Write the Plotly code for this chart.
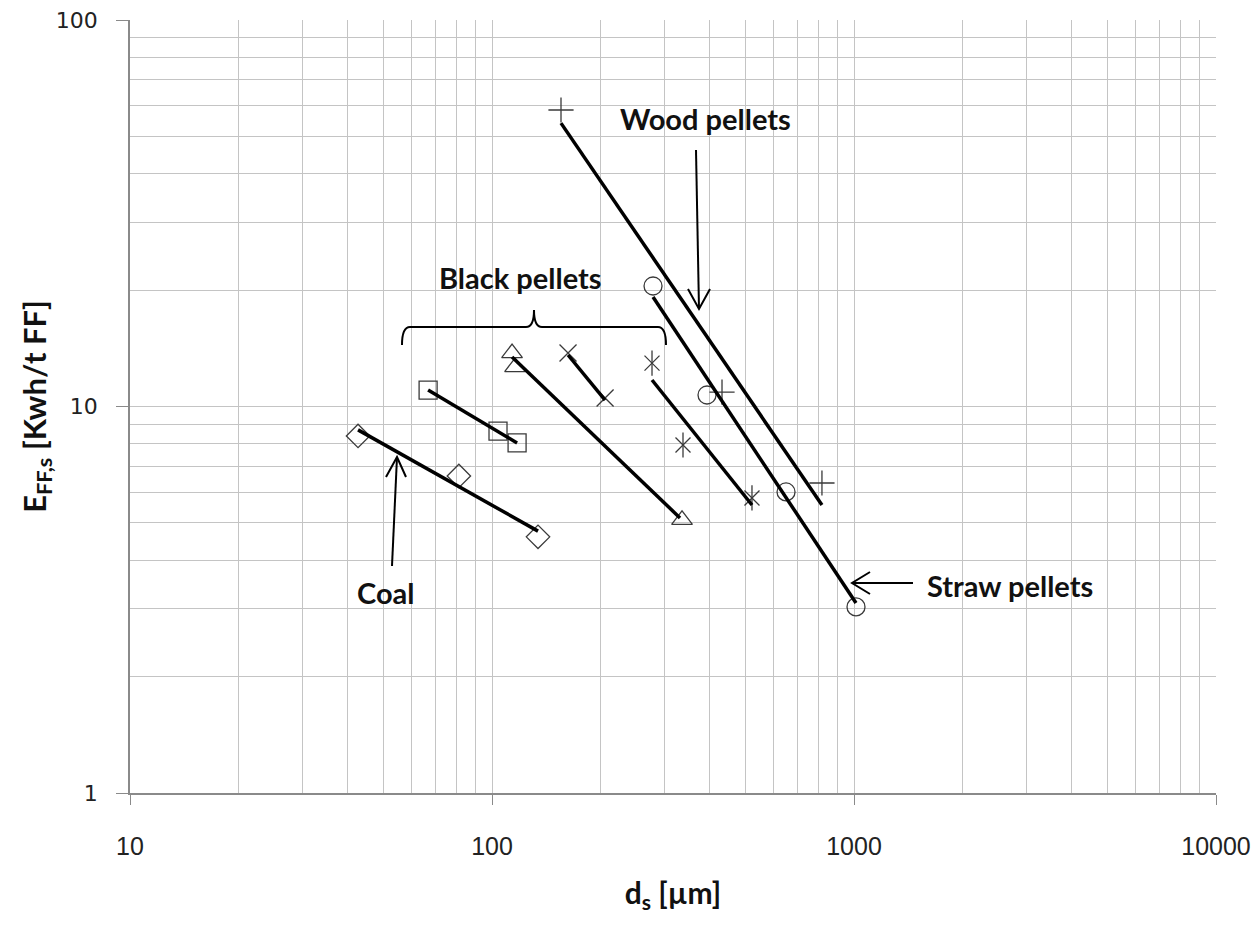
import plotly.graph_objects as go

# ---- data ----
coal_x = [42.65, 81.0, 134.0]
coal_y = [8.39, 6.61, 4.60]
coal_fit_x = [42.65, 134.0]
coal_fit_y = [8.70, 4.76]

square_x = [66.6, 103.9, 117.3]
square_y = [11.03, 8.64, 8.05]
square_fit_x = [66.6, 117.3]
square_fit_y = [11.03, 8.05]

tri_x = [113.6, 115.8, 334.9]
tri_y = [13.75, 12.65, 5.09]
tri_fit_x = [113.6, 330.6]
tri_fit_y = [13.43, 5.15]

xm_x = [162.2, 205.3]
xm_y = [13.75, 10.52]
xm_fit_x = [162.2, 205.3]
xm_fit_y = [13.59, 10.39]

star_x = [276.7, 337.0, 522.6]
star_y = [12.95, 7.95, 5.80]
star_fit_x = [276.7, 522.6]
star_fit_y = [11.71, 5.56]

straw_x = [278.5, 392.6, 649.0, 1012.8]
straw_y = [20.50, 10.71, 6.01, 3.03]
straw_fit_x = [278.5, 1012.8]
straw_fit_y = [19.20, 3.10]

wood_x = [155.1, 431.9, 815.6]
wood_y = [58.5, 10.90, 6.34]
wood_fit_x = [155.1, 815.6]
wood_fit_y = [54.1, 5.56]

x_tick_vals = [10, 100, 1000, 10000]
x_tick_text = ["10", "100", "1000", "10000"]
y_tick_vals = [1, 10, 100]
y_tick_text = ["1", "10", "100"]

# ---- layout geometry ----
W, H = 1258, 932
ML, MR, MT, MB = 130, 42, 20, 139
PW, PH = W - ML - MR, H - MT - MB


def px(x):
    return (x - ML) / PW


def py(y):
    return (H - MB - y) / PH


MC = "#3a3a3a"
fig = go.Figure()


def markers(x, y, symbol, size, width=1.3):
    fig.add_trace(go.Scatter(
        x=x, y=y, mode="markers", showlegend=False, hoverinfo="skip",
        marker=dict(symbol=symbol, size=size, color=MC,
                    line=dict(color=MC, width=width))))


def fitline(x, y):
    fig.add_trace(go.Scatter(
        x=x, y=y, mode="lines", showlegend=False, hoverinfo="skip",
        line=dict(color="black", width=3.5)))


markers(coal_x, coal_y, "diamond-open", 18)
markers(square_x, square_y, "square-open", 18)
markers(tri_x, tri_y, "triangle-up-open", 18)
markers(xm_x, xm_y, "x-thin-open", 17)
markers(star_x, star_y, "x-thin-open", 15)
markers(star_x, star_y, "line-ns-open", 18)
markers(straw_x, straw_y, "circle-open", 18)
markers(wood_x, wood_y, "cross-thin-open", 18)

for fx, fy in [(coal_fit_x, coal_fit_y), (square_fit_x, square_fit_y),
               (tri_fit_x, tri_fit_y), (xm_fit_x, xm_fit_y),
               (star_fit_x, star_fit_y), (straw_fit_x, straw_fit_y),
               (wood_fit_x, wood_fit_y)]:
    fitline(fx, fy)

GRID = "#c4c4c4"
AX = "#8a8a8a"

fig.update_xaxes(
    type="log", range=[1, 4], tickvals=x_tick_vals, ticktext=x_tick_text,
    showgrid=True, gridcolor=GRID, gridwidth=1,
    minor=dict(showgrid=True, gridcolor=GRID, gridwidth=1, dtick="D1", ticks=""),
    ticks="outside", ticklen=10, tickcolor=AX,
    showline=True, linecolor=AX, linewidth=1.5, mirror=False,
    zeroline=False, ticklabelstandoff=20,
    tickfont=dict(family="Liberation Sans, Arial", size=25, color="#222"),
    title=dict(text="d<sub>s</sub> [µm]",
               font=dict(family="Lato, Open Sans", size=30, color="#111", weight="bold"),
               standoff=24),
)
fig.update_yaxes(
    type="log", range=[0, 2], tickvals=y_tick_vals, ticktext=y_tick_text,
    showgrid=True, gridcolor=GRID, gridwidth=1,
    minor=dict(showgrid=True, gridcolor=GRID, gridwidth=1, dtick="D1", ticks=""),
    ticks="outside", ticklen=12, tickcolor=AX,
    showline=True, linecolor=AX, linewidth=1.5, mirror=False,
    zeroline=False, ticklabelstandoff=14,
    tickfont=dict(family="DejaVu Sans, Verdana", size=22, color="#222"),
    title=dict(text="E<sub>FF,s</sub> [Kwh/t FF]",
               font=dict(family="Lato, Open Sans", size=31, color="#111", weight="bold"),
               standoff=0),
)

# ---- annotations: labels ----
LBL = dict(family="Lato, Open Sans", size=29, color="#111", weight="bold")
for text, cx, cy in [("Wood pellets", 705, 118), ("Black pellets", 520, 277),
                     ("Coal", 385, 592), ("Straw pellets", 1010, 585)]:
    fig.add_annotation(x=px(cx), y=py(cy), xref="paper", yref="paper",
                       text=text, showarrow=False, font=LBL,
                       xanchor="center", yanchor="middle")


def path(points, closed=False):
    s = "M " + " L ".join(f"{px(a):.5f},{py(b):.5f}" for a, b in points)
    return s + (" Z" if closed else "")


line_style = dict(color="black", width=2)
# arrows (shaft + open V head)
arrows = [
    [(696, 150), (699, 309)],
    [(688, 289), (699, 309), (710, 289)],
    [(392, 566), (397, 457)],
    [(386, 477), (397, 457), (406, 477)],
    [(913, 583), (852, 583)],
    [(870, 572), (852, 583), (870, 594)],
]
for pts in arrows:
    fig.add_shape(type="path", path=path(pts), xref="paper", yref="paper",
                  line=line_style)

# curly brace for Black pellets
brace = ("M {a},{b} Q {c},{d} {e},{d} L {f},{d} Q {g},{d} {g},{h} "
         "Q {g},{d} {i},{d} L {j},{d} Q {k},{d} {k},{b}").format(
    a=f"{px(402):.5f}", b=f"{py(345):.5f}", c=f"{px(402):.5f}", d=f"{py(327):.5f}",
    e=f"{px(410):.5f}", f=f"{px(526):.5f}", g=f"{px(534):.5f}", h=f"{py(310):.5f}",
    i=f"{px(542):.5f}", j=f"{px(658):.5f}", k=f"{px(666):.5f}")
fig.add_shape(type="path", path=brace, xref="paper", yref="paper", line=line_style)

fig.update_layout(
    width=W, height=H,
    margin=dict(l=ML, r=MR, t=MT, b=MB, autoexpand=False),
    paper_bgcolor="white", plot_bgcolor="white",
    showlegend=False,
)

fig.write_html("out.html")
